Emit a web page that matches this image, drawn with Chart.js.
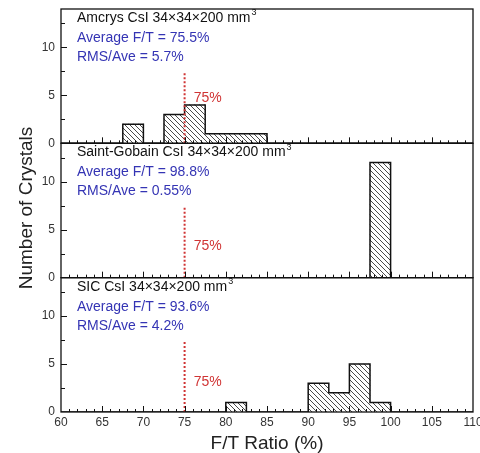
<!DOCTYPE html>
<html>
<head>
<meta charset="utf-8">
<script src="https://cdn.jsdelivr.net/npm/chart.js@4/dist/chart.umd.min.js"></script>
<style>
html,body{margin:0;padding:0;background:#fff;}
canvas{display:block;}
</style>
</head>
<body>
<canvas id="c" width="480" height="453"></canvas>
<script>
// ---- data ----
const xTicks = [60, 65, 70, 75, 80, 85, 90, 95, 100, 105, 110];
const yTicks = [0, 5, 10];
const binStarts = [60, 62.5, 65, 67.5, 70, 72.5, 75, 77.5, 80, 82.5, 85, 87.5, 90, 92.5, 95, 97.5, 100, 102.5, 105, 107.5];
const binEnd = 110;
const amcrysCounts      = [0, 0, 0, 2, 0, 3, 4, 1, 1, 1, 0, 0, 0, 0, 0, 0, 0, 0, 0, 0];
const saintGobainCounts = [0, 0, 0, 0, 0, 0, 0, 0, 0, 0, 0, 0, 0, 0, 0, 12, 0, 0, 0, 0];
const sicCounts         = [0, 0, 0, 0, 0, 0, 0, 0, 1, 0, 0, 0, 3, 2, 5, 1, 0, 0, 0, 0];
const panelNames = ['Amcrys CsI 34\u00d734\u00d7200 mm', 'Saint-Gobain CsI 34\u00d734\u00d7200 mm', 'SIC CsI 34\u00d734\u00d7200 mm'];
const averageFT = ['75.5%', '98.8%', '93.6%'];
const rmsAve = ['5.7%', '0.55%', '4.2%'];
const thresholdFT = 75;
const thresholdTop = 7.5;
const thresholdLabel = '75%';

// ---- styling ----
const FONT = "'Liberation Sans', Arial, Helvetica, sans-serif";
const BLUE = '#3434b4';
const RED = '#d03434';

function makeHatch() {
  const s = 5;
  const c = document.createElement('canvas');
  c.width = s; c.height = s;
  const g = c.getContext('2d');
  g.fillStyle = '#fff';
  g.fillRect(0, 0, s, s);
  g.strokeStyle = '#4a4a4a';
  g.lineWidth = 1;
  g.beginPath();
  g.moveTo(-1, -1); g.lineTo(s + 1, s + 1);
  g.moveTo(s - 1, -1); g.lineTo(s + 1, 1);
  g.moveTo(-1, s - 1); g.lineTo(1, s + 1);
  g.stroke();
  return g.createPattern(c, 'repeat');
}
const hatch = makeHatch();

const panels = [
  { id: 'y1', counts: amcrysCounts, name: panelNames[0], avg: averageFT[0], rms: rmsAve[0], labelY: 4.7 },
  { id: 'y2', counts: saintGobainCounts, name: panelNames[1], avg: averageFT[1], rms: rmsAve[1], labelY: 3.3 },
  { id: 'y3', counts: sicCounts, name: panelNames[2], avg: averageFT[2], rms: rmsAve[2], labelY: 3.1 }
];

const datasets = [];
panels.forEach(p => {
  datasets.push({
    type: 'bar', label: p.name + ' bars', xAxisID: 'xc', yAxisID: p.id,
    data: p.counts.map(c => c > 0 ? c : null),
    backgroundColor: hatch, borderWidth: 0, grouped: false,
    barPercentage: 1, categoryPercentage: 1, order: 3
  });
  datasets.push({
    type: 'line', label: p.name + ' outline', xAxisID: 'x', yAxisID: p.id,
    data: binStarts.map((b, k) => ({ x: b, y: p.counts[k] })).concat([{ x: binEnd, y: 0 }]),
    stepped: true, borderColor: '#111', borderWidth: 1.5, pointRadius: 0, fill: false, order: 2
  });
  datasets.push({
    type: 'line', label: p.name + ' 75%', xAxisID: 'x', yAxisID: p.id,
    data: [{ x: thresholdFT, y: 0 }, { x: thresholdFT, y: thresholdTop }],
    borderColor: RED, borderWidth: 2, borderDash: [2, 2], pointRadius: 0, fill: false, order: 1
  });
});

function yScale() {
  return {
    type: 'linear', position: 'left', stack: 'panels', stackWeight: 1,
    min: 0, max: 14, offset: false,
    afterBuildTicks: s => { s.ticks = yTicks.map(v => ({ value: v })); },
    grid: { display: false, drawTicks: false },
    border: { display: false },
    ticks: { font: { size: 12, family: FONT }, color: '#333', padding: 6 },
    afterFit: s => { s.width = 61; s.paddingTop = 0; s.paddingBottom = 0; }
  };
}

const decor = {
  id: 'decor',
  afterDatasetsDraw(chart) {
    const ctx = chart.ctx, xs = chart.scales.x, a = chart.chartArea;
    ctx.save();
    panels.forEach(p => {
      const ys = chart.scales[p.id];
      ctx.strokeStyle = '#111';
      ctx.lineWidth = 1.3;
      ctx.strokeRect(a.left, ys.top, a.right - a.left, ys.bottom - ys.top);
      const y0 = ys.getPixelForValue(0);
      ctx.lineWidth = 1;
      ctx.beginPath();
      for (let v = xTicks[0] + 1; v < xTicks[xTicks.length - 1]; v++) {
        const px = Math.round(xs.getPixelForValue(v)) + 0.5;
        const len = v % 5 === 0 ? 6 : 3;
        ctx.moveTo(px, y0); ctx.lineTo(px, y0 - len);
      }
      for (let v = 2.5; v < 14; v += 2.5) {
        const py = Math.round(ys.getPixelForValue(v)) + 0.5;
        const len = v % 5 === 0 ? 6 : 4;
        ctx.moveTo(a.left, py); ctx.lineTo(a.left + len, py);
      }
      ctx.stroke();

      // texts
      const tx = a.left + 16;
      ctx.textAlign = 'left';
      ctx.textBaseline = 'middle';
      ctx.font = '14px ' + FONT;
      ctx.fillStyle = '#111';
      ctx.fillText(p.name, tx, ys.top + 9);
      const w = ctx.measureText(p.name).width;
      ctx.font = '9px ' + FONT;
      ctx.fillText('3', tx + w + 1, ys.top + 4);
      ctx.font = '14px ' + FONT;
      ctx.fillStyle = BLUE;
      ctx.fillText('Average F/T = ' + p.avg, tx, ys.top + 29);
      ctx.fillText('RMS/Ave = ' + p.rms, tx, ys.top + 48);
      ctx.fillStyle = RED;
      ctx.fillText(thresholdLabel, xs.getPixelForValue(76.1), ys.getPixelForValue(p.labelY));
    });
    ctx.restore();
  },
  afterDraw(chart) {
    const ctx = chart.ctx;
    ctx.save();
    ctx.translate(27, 208);
    ctx.rotate(-Math.PI / 2);
    ctx.textAlign = 'center';
    ctx.textBaseline = 'middle';
    ctx.font = '19px ' + FONT;
    ctx.fillStyle = '#222';
    ctx.fillText('Number of Crystals', 0, 0);
    ctx.restore();
  }
};

new Chart(document.getElementById('c'), {
  type: 'bar',
  data: { labels: binStarts.map(String), datasets },
  options: {
    responsive: false,
    animation: false,
    devicePixelRatio: 1,
    layout: { padding: { top: 9, right: 7, left: 0, bottom: 0 } },
    plugins: { legend: { display: false }, tooltip: { enabled: false } },
    scales: {
      x: {
        type: 'linear', position: 'bottom', min: 60, max: 110, offset: false,
        afterBuildTicks: s => { s.ticks = xTicks.map(v => ({ value: v })); },
        grid: { display: false, drawTicks: false, offset: false },
        border: { display: false },
        ticks: { font: { size: 12, family: FONT }, color: '#333', padding: 3, maxRotation: 0, autoSkip: false },
        title: { display: true, text: 'F/T Ratio (%)', color: '#222', font: { size: 19, family: FONT, lineHeight: 1 }, padding: { top: 0, bottom: 0 } },
        afterFit: s => { s.height = 41; s.paddingLeft = 0; s.paddingRight = 0; }
      },
      xc: { type: 'category', display: false, offset: true },
      y3: yScale(),
      y2: yScale(),
      y1: yScale()
    }
  },
  plugins: [decor]
});
</script>
</body>
</html>
